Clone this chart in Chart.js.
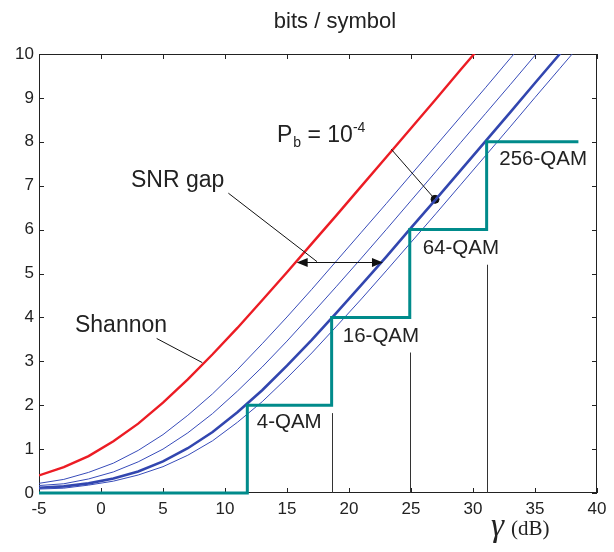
<!DOCTYPE html>
<html lang="en">
<head>
<meta charset="UTF-8">
<script src="https://cdn.jsdelivr.net/npm/chart.js"></script>
<title>bits / symbol</title>
<style>
  body { margin: 0; background: #fff; }
</style>
</head>
<body>
<canvas id="myChart" width="614" height="552"></canvas>
<script>

// SNR in dB (x axis samples)
const snrDb = [-5, -3, -1, 1, 3, 5, 7, 9, 11, 13, 15, 17, 19, 21, 23, 25, 27, 29, 31, 33, 35, 37, 39];

// bits / symbol
const shannon = [0.40, 0.59, 0.84, 1.18, 1.58, 2.06, 2.59, 3.16, 3.76, 4.39, 5.03, 5.68, 6.33, 6.99, 7.65, 8.31, 8.97, 9.64, 10.30];
const thinA = [0.22, 0.31, 0.47, 0.68, 0.97, 1.33, 1.77, 2.26, 2.81, 3.40, 4.01, 4.64, 5.29, 5.94, 6.59, 7.25, 7.91, 8.57, 9.23, 9.90, 10.56];
const thinB = [0.17, 0.21, 0.32, 0.48, 0.71, 1.00, 1.37, 1.81, 2.32, 2.87, 3.46, 4.08, 4.71, 5.35, 6.00, 6.66, 7.32, 7.98, 8.64, 9.30, 9.97, 10.63];
const pb1e4 = [0.12, 0.15, 0.22, 0.33, 0.49, 0.72, 1.02, 1.39, 1.84, 2.34, 2.90, 3.49, 4.11, 4.74, 5.38, 6.04, 6.69, 7.35, 8.01, 8.67, 9.34, 10.00, 10.66];
const thinC = [0.09, 0.11, 0.18, 0.27, 0.41, 0.60, 0.86, 1.19, 1.61, 2.08, 2.62, 3.19, 3.80, 4.42, 5.06, 5.71, 6.36, 7.02, 7.68, 8.34, 9.01, 9.67, 10.33];

// QAM staircase
const stepX = [-5, 11.8, 11.8, 18.6, 18.6, 24.9, 24.9, 31.1, 31.1, 38.5];
const stepY = [0, 0, 2, 2, 4, 4, 6, 6, 8, 8];
const qamNames = ['4-QAM', '16-QAM', '64-QAM', '256-QAM'];
const qamSnr = [11.8, 18.6, 24.9, 31.1];
const guideTop = [1.82, 3.2, 5.2];

// operating point and gap arrow
const markX = [26.94];
const markY = [6.69];
const gapFrom = 15.78;
const gapTo = 22.74;
const gapLevel = 5.27;

const xTicks = [-5, 0, 5, 10, 15, 20, 25, 30, 35, 40];
const yTicks = [0, 1, 2, 3, 4, 5, 6, 7, 8, 9, 10];

const pts = (xs, ys) => ys.map((y, i) => ({ x: xs[i], y: y }));

const FONT = '"Liberation Sans", Arial, sans-serif';

const thin = (d) => ({ data: d, borderColor: 'rgb(55,75,185)', borderWidth: 1, pointRadius: 0, showLine: true, tension: 0 });

const decor = {
    id: 'decor',
    beforeDatasetsDraw(chart) {
        const { ctx, chartArea: a, scales: { x, y } } = chart;
        ctx.save();
        ctx.strokeStyle = '#222';
        ctx.lineWidth = 1;
        ctx.strokeRect(a.left + 0.5, a.top + 0.5, a.right - a.left - 1, a.bottom - a.top - 1);
        ctx.beginPath();
        xTicks.forEach(v => {
            const px = Math.round(x.getPixelForValue(v)) + 0.5;
            ctx.moveTo(px, a.bottom); ctx.lineTo(px, a.bottom - 5);
            ctx.moveTo(px, a.top); ctx.lineTo(px, a.top + 5);
        });
        yTicks.forEach(v => {
            const py = Math.round(y.getPixelForValue(v)) + 0.5;
            ctx.moveTo(a.left, py); ctx.lineTo(a.left + 5, py);
            ctx.moveTo(a.right, py); ctx.lineTo(a.right - 5, py);
        });
        ctx.stroke();
        // thin guide lines under the steps
        ctx.strokeStyle = '#333';
        ctx.beginPath();
        guideTop.forEach((t, i) => {
            const px = Math.round(x.getPixelForValue(qamSnr[i + 1])) + 0.5;
            ctx.moveTo(px, y.getPixelForValue(t));
            ctx.lineTo(px, a.bottom);
        });
        ctx.stroke();
        ctx.restore();
    },
    afterDraw(chart) {
        const { ctx, scales: { x, y } } = chart;
        const X = v => x.getPixelForValue(v);
        const Y = v => y.getPixelForValue(v);
        ctx.save();
        ctx.fillStyle = '#222';
        ctx.strokeStyle = '#111';
        ctx.lineWidth = 1;

        // title
        ctx.font = '22px ' + FONT;
        ctx.textAlign = 'center';
        ctx.textBaseline = 'alphabetic';
        ctx.fillText('bits / symbol', 335, 28);

        // x axis title
        ctx.textAlign = 'left';
        ctx.font = 'italic 33px "Liberation Serif", "Times New Roman", serif';
        ctx.fillText('\u03b3', 491, 536);
        ctx.font = '21px "Liberation Serif", "Times New Roman", serif';
        ctx.fillText('(dB)', 511, 535);

        // leader lines
        ctx.beginPath();
        ctx.moveTo(X(23.41), Y(7.83)); ctx.lineTo(X(markX[0]), Y(markY[0]));
        ctx.moveTo(X(10.27), Y(6.83)); ctx.lineTo(X(17.42), Y(gapLevel));
        ctx.moveTo(X(4.49), Y(3.52)); ctx.lineTo(X(8.17), Y(2.97));
        ctx.stroke();

        // gap arrow
        const ay = Math.round(Y(gapLevel)) + 0.5;
        const x0 = X(gapFrom), x1 = X(gapTo);
        ctx.beginPath();
        ctx.moveTo(x0 + 8, ay); ctx.lineTo(x1 - 8, ay);
        ctx.stroke();
        ctx.fillStyle = '#111';
        ctx.beginPath();
        ctx.moveTo(x0, ay); ctx.lineTo(x0 + 11, ay - 4.5); ctx.lineTo(x0 + 11, ay + 4.5); ctx.closePath();
        ctx.moveTo(x1, ay); ctx.lineTo(x1 - 11, ay - 4.5); ctx.lineTo(x1 - 11, ay + 4.5); ctx.closePath();
        ctx.fill();

        // text labels
        ctx.fillStyle = '#222';
        ctx.font = '23px ' + FONT;
        ctx.fillText('SNR gap', X(2.42), Y(6.96));
        ctx.fillText('Shannon', X(-2.1), Y(3.67));

        // P_b = 10^-4
        let px = X(14.19);
        const py = Y(8.0);
        ctx.fillText('P', px, py);
        px += ctx.measureText('P').width;
        ctx.font = '14px ' + FONT;
        ctx.fillText('b', px + 1, py + 5);
        px += ctx.measureText('b').width + 1;
        ctx.font = '23px ' + FONT;
        ctx.fillText(' = 10', px, py);
        px += ctx.measureText(' = 10').width;
        ctx.font = '14px ' + FONT;
        ctx.fillText('-4', px, py - 10);

        // QAM names
        ctx.font = '20.5px ' + FONT;
        const qamPos = [[12.56, 1.47], [19.5, 3.44], [25.94, 5.44], [32.12, 7.47]];
        qamNames.forEach((n, i) => ctx.fillText(n, X(qamPos[i][0]), Y(qamPos[i][1])));
        ctx.restore();
    }
};

const config = {
    type: 'scatter',
    data: {
        datasets: [
            { data: pts(stepX, stepY), borderColor: 'rgb(0,139,139)', borderWidth: 3, pointRadius: 0, showLine: true, tension: 0, clip: 4 },
            thin(pts(snrDb, thinA)),
            thin(pts(snrDb, thinB)),
            thin(pts(snrDb, thinC)),
            { data: pts(snrDb, pb1e4), borderColor: 'rgb(50,70,175)', borderWidth: 2.6, pointRadius: 0, showLine: true, tension: 0 },
            { data: pts(snrDb, shannon), borderColor: 'rgb(236,28,36)', borderWidth: 2.4, pointRadius: 0, showLine: true, tension: 0 },
            { data: pts(markX, markY), pointRadius: 4, pointBackgroundColor: '#111', pointBorderColor: '#111', showLine: false }
        ]
    },
    options: {
        responsive: false,
        animation: false,
        devicePixelRatio: 1,
        layout: { padding: { top: 54, right: 17, left: 0, bottom: 0 } },
        plugins: { legend: { display: false }, tooltip: { enabled: false } },
        scales: {
            x: {
                type: 'linear', min: -5, max: 40,
                afterFit: s => { s.height = 59; },
                afterBuildTicks: s => { s.ticks = xTicks.map(v => ({ value: v })); },
                grid: { display: false, drawTicks: false },
                border: { display: false },
                ticks: { padding: 6, color: '#222', font: { family: FONT, size: 17 }, maxRotation: 0 }
            },
            y: {
                type: 'linear', min: 0, max: 10,
                afterFit: s => { s.width = 39; },
                afterBuildTicks: s => { s.ticks = yTicks.map(v => ({ value: v })); },
                grid: { display: false, drawTicks: false },
                border: { display: false },
                ticks: { padding: 5, color: '#222', font: { family: FONT, size: 17 } }
            }
        }
    },
    plugins: [decor]
};

const myChart = new Chart(document.getElementById('myChart'), config);
</script>
</body>
</html>
